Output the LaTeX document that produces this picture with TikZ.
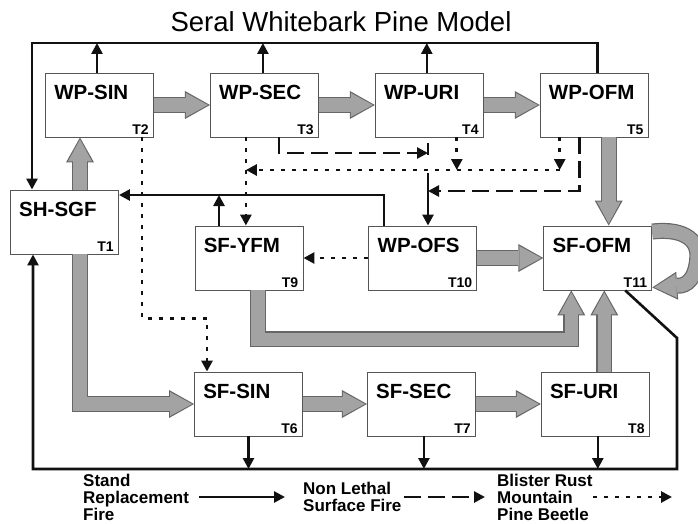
\documentclass[tikz,border=0pt]{standalone}
\usepackage{fontspec}
\setmainfont{Liberation Sans}
\usetikzlibrary{arrows.meta, positioning}
\definecolor{boxgray}{HTML}{555555}
\definecolor{flowedge}{HTML}{666666}
\definecolor{flowfill}{HTML}{A3A3A3}
\definecolor{lineblack}{HTML}{111111}
\tikzset{
  stage/.style={draw=boxgray, line width=0.9pt, fill=white, minimum width=108pt,
                minimum height=64pt, inner sep=0pt},
  stagename/.style={anchor=base west, xshift=9pt, yshift=-27pt, inner sep=0pt,
                    font=\bfseries\fontsize{20.5}{20}\selectfont},
  stageno/.style={anchor=base east, xshift=-5pt, yshift=3pt, inner sep=0pt,
                  font=\bfseries\fontsize{14}{14}\selectfont},
  succ/.style={line width=16pt, draw=flowedge,
               -{Triangle[length=25pt, width=28pt, line width=0pt]},
               postaction={draw=flowfill, line width=13.6pt, shorten >=2pt,
                           -{Triangle[length=22pt, width=24pt, line width=0pt]}}},
  srfire/.style={line width=2.6pt, draw=lineblack, -{Triangle[length=11pt, width=11pt]}},
  nlfire/.style={srfire, dash pattern=on 17pt off 7pt},
  rustbeetle/.style={srfire, line width=2.8pt, dash pattern=on 4pt off 7pt},
  legtext/.style={anchor=west, align=left, inner sep=0pt,
                  font=\bfseries\fontsize{17}{17}\selectfont},
}
\begin{document}
\begin{tikzpicture}[x=1pt, y=-1pt, node distance=56pt]
  \useasboundingbox (0,0) rectangle (698,524);
  \node (title) [anchor=base, font=\fontsize{27.5}{27}\selectfont] at (341,32) {Seral Whitebark Pine Model};

  % stages
  \node (wpsin) [stage, label={[stagename]north west:WP-SIN}, label={[stageno]south east:T2}] at (99.5,105) {};
  \node (wpsec) [stage, right=of wpsin, label={[stagename]north west:WP-SEC}, label={[stageno]south east:T3}] {};
  \node (wpuri) [stage, right=of wpsec, label={[stagename]north west:WP-URI}, label={[stageno]south east:T4}] {};
  \node (wpofm) [stage, right=of wpuri, label={[stagename]north west:WP-OFM}, label={[stageno]south east:T5}] {};
  \node (shsgf) [stage, label={[stagename]north west:SH-SGF}, label={[stageno]south east:T1}] at (64.5,222) {};
  \node (sfyfm) [stage, label={[stagename]north west:SF-YFM}, label={[stageno]south east:T9}] at (249,258) {};
  \node (wpofs) [stage, right=65pt of sfyfm, label={[stagename]north west:WP-OFS}, label={[stageno]south east:T10}] {};
  \node (sfofm) [stage, right=66pt of wpofs, label={[stagename]north west:SF-OFM}, label={[stageno]south east:T11}] {};
  \node (sfsin) [stage, label={[stagename]north west:SF-SIN}, label={[stageno]south east:T6}] at (248.5,404) {};
  \node (sfsec) [stage, right=64pt of sfsin, label={[stagename]north west:SF-SEC}, label={[stageno]south east:T7}] {};
  \node (sfuri) [stage, right=65pt of sfsec, label={[stagename]north west:SF-URI}, label={[stageno]south east:T8}] {};

  \coordinate (firetop) at (0,43);
  \coordinate (firemid) at (0,195);
  \coordinate (firebot) at (0,469);
  \coordinate (fireturn) at (677,338);
  \coordinate (nlbar) at (428,143);
  \coordinate (rbline) at (0,170);

  % succession
  \draw[succ] (wpsin) -- (wpsec);
  \draw[succ] (wpsec) -- (wpuri);
  \draw[succ] (wpuri) -- (wpofm);
  \draw[succ] ([xshift=14.5pt]wpofm.south) -- ([xshift=14.5pt]wpofm.south |- sfofm.north);
  \draw[succ] ([xshift=15.5pt]shsgf.north) -- ([xshift=15.5pt]shsgf.north |- wpsin.south);
  \draw[succ] ([xshift=15.5pt]shsgf.south) |- (sfsin.west);
  \draw[succ] ([xshift=9pt]sfyfm.south) |- ([xshift=-26.5pt, yshift=-49pt]sfofm.south) -- ([xshift=-26.5pt]sfofm.south);
  \draw[succ] (wpofs) -- (sfofm);
  \draw[succ] (sfsin) -- (sfsec);
  \draw[succ] (sfsec) -- (sfuri);
  \draw[succ] ([xshift=9pt]sfuri.north) -- ([xshift=9pt]sfuri.north |- sfofm.south);
  \draw[succ] ([yshift=-6pt]sfofm.north east) .. controls +(35,-4) and +(2,-15) .. ([xshift=45pt]sfofm.east)
              .. controls +(-1,16) and +(9,-2) .. ([xshift=29pt, yshift=5pt]sfofm.south east) -- ([yshift=3pt]sfofm.south east);

  % stand replacement fire
  \draw[srfire] ([xshift=3.5pt]wpofm.north) |- ([xshift=-32.5pt]shsgf.north |- firetop) -- ([xshift=-32.5pt]shsgf.north);
  \draw[srfire] ([xshift=-2.5pt]wpsin.north) -- ([xshift=-2.5pt]wpsin.north |- firetop);
  \draw[srfire] ([xshift=-1.5pt]wpsec.north) -- ([xshift=-1.5pt]wpsec.north |- firetop);
  \draw[srfire] ([xshift=-2.5pt]wpuri.north) -- ([xshift=-2.5pt]wpuri.north |- firetop);
  \draw[srfire] ([xshift=-39pt]wpofs.north) |- (shsgf.east |- firemid);
  \draw[srfire] ([xshift=-30pt]sfyfm.north) -- ([xshift=-30pt]sfyfm.north |- firemid);
  \draw[srfire] ([xshift=-27pt]sfofm.south east) -- (fireturn) -- (fireturn |- firebot) -| ([xshift=-31.5pt]shsgf.south);
  \draw[srfire] (sfsin.south) -- (sfsin.south |- firebot);
  \draw[srfire] ([xshift=2.5pt]sfsec.south) -- ([xshift=2.5pt]sfsec.south |- firebot);
  \draw[srfire] ([xshift=2.5pt]sfuri.south) -- ([xshift=2.5pt]sfuri.south |- firebot);

  % non lethal surface fire
  \draw[nlfire] ([xshift=14.5pt]wpsec.south) |- ([yshift=-10pt]nlbar);
  \draw[nlfire] ([xshift=-14.5pt]wpofm.south) |- ([yshift=-48pt]nlbar);
  \draw[nlfire, dash pattern=on 12pt off 18pt on 80pt] (nlbar) -- (nlbar |- wpofs.north);

  % blister rust / mountain pine beetle
  \draw[rustbeetle] ([xshift=27.5pt]wpuri.south) -- ([xshift=27.5pt]wpuri.south |- rbline);
  \draw[rustbeetle] ([xshift=-34.5pt]wpofm.south) -- ([xshift=-34.5pt]wpofm.south |- rbline);
  \draw[rustbeetle] ([xshift=-34.5pt]wpofm.south |- rbline) -- ([xshift=-18.5pt]wpsec.south |- rbline);
  \draw[rustbeetle] ([xshift=-18.5pt]wpsec.south) -- ([xshift=-18.5pt]wpsec.south |- sfyfm.north);
  \draw[rustbeetle] ([xshift=42.5pt]wpsin.south) |- ([xshift=-41.5pt, yshift=53pt]sfsin.north) -- ([xshift=-41.5pt]sfsin.north);
  \draw[rustbeetle] (wpofs.west) -- (sfyfm.east);

  % legend
  \node (legsrf) [legtext] at (83,497) {Stand\\Replacement\\Fire};
  \node (legnlsf) [legtext] at (303,497) {Non Lethal\\Surface Fire};
  \node (legbrmpb) [legtext] at (497,497) {Blister Rust\\Mountain\\Pine Beetle};
  \coordinate (legend end) at (672,497);
  \draw[srfire, shorten <=10pt, shorten >=18pt] (legsrf) -- (legnlsf);
  \draw[nlfire, shorten <=2pt, shorten >=12pt] (legnlsf) -- (legbrmpb);
  \draw[rustbeetle] (legbrmpb) -- (legend end);
\end{tikzpicture}
\end{document}
